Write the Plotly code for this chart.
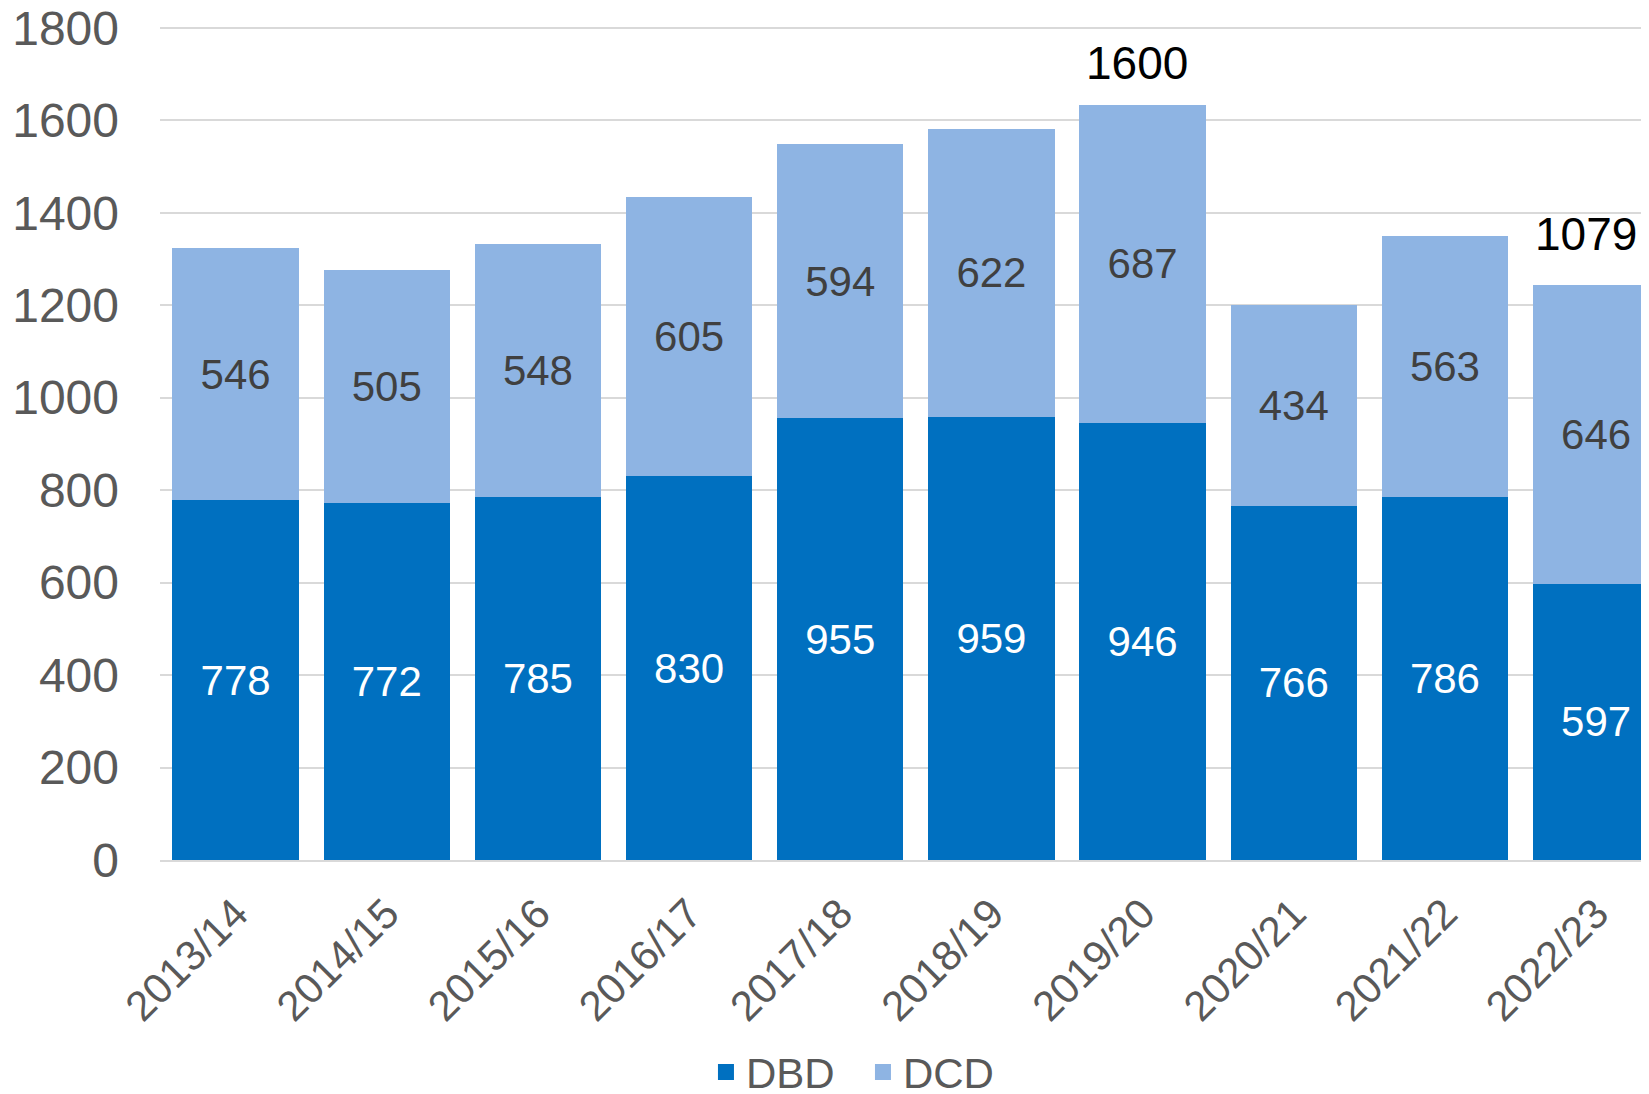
import plotly.graph_objects as go

years = ["2013/14", "2014/15", "2015/16", "2016/17", "2017/18",
         "2018/19", "2019/20", "2020/21", "2021/22", "2022/23"]
dbd = [778, 772, 785, 830, 955, 959, 946, 766, 786, 597]
dcd = [546, 505, 548, 605, 594, 622, 687, 434, 563, 646]
y_ticks = [0, 200, 400, 600, 800, 1000, 1200, 1400, 1600, 1800]
note_years = ["2019/20", "2022/23"]
note_texts = ["1600", "1079"]

FONT = "Liberation Sans, Arial, sans-serif"
C_DBD = "#0070C0"
C_DCD = "#8EB4E3"

fig = go.Figure()
fig.add_trace(go.Bar(
    x=years, y=dbd, name="DBD", marker=dict(color=C_DBD, line=dict(width=0)),
    text=[str(v) for v in dbd], textposition="inside", insidetextanchor="middle",
    constraintext="none", textangle=0, showlegend=False,
    textfont=dict(family=FONT, size=42, color="white"),
))
fig.add_trace(go.Bar(
    x=years, y=dcd, name="DCD", marker=dict(color=C_DCD, line=dict(width=0)),
    text=[str(v) for v in dcd], textposition="inside", insidetextanchor="middle",
    constraintext="none", textangle=0, showlegend=False,
    textfont=dict(family=FONT, size=42, color="#404040"),
))
# legend entries with square swatches
for nm, col in [("DBD", C_DBD), ("DCD", C_DCD)]:
    fig.add_trace(go.Scatter(x=[None], y=[None], mode="markers", name=nm,
                             marker=dict(symbol="square", size=23, color=col),
                             showlegend=True))

totals = {y: a + b for y, a, b in zip(years, dbd, dcd)}
shifts = {"2019/20": (-6, 14), "2022/23": (-10, 23)}
for yr, txt in zip(note_years, note_texts):
    xs, ys = shifts[yr]
    fig.add_annotation(x=yr, y=totals[yr], text=txt, showarrow=False,
                       xanchor="center", yanchor="bottom", xshift=xs, yshift=ys,
                       font=dict(family=FONT, size=46, color="black"))

fig.update_layout(
    barmode="stack",
    bargap=0.165,
    width=1641, height=1086,
    margin=dict(l=152, r=0, t=17, b=234, autoexpand=False),
    plot_bgcolor="white", paper_bgcolor="white",
    font=dict(family=FONT, color="#595959"),
    showlegend=True,
    legend=dict(orientation="h", xref="container", yref="container",
                x=0.521, xanchor="center", y=0.02, yanchor="middle",
                font=dict(family=FONT, size=42, color="#595959"),
                traceorder="normal", itemwidth=30, entrywidth=112, tracegroupgap=0),
    xaxis=dict(range=[-0.5, 9.35], tickangle=-45, showgrid=False, automargin=False,
               showline=True, linecolor="#D9D9D9", linewidth=2,
               ticks="", ticklabelstandoff=10,
               tickfont=dict(family=FONT, size=42, color="#595959")),
    yaxis=dict(range=[0, 1806], tickvals=y_ticks, showgrid=True, automargin=False,
               gridcolor="#D9D9D9", gridwidth=1.5, zeroline=False,
               showline=False, ticks="", ticklabelstandoff=40,
               ticklabeloverflow="allow",
               tickfont=dict(family=FONT, size=48, color="#595959")),
)

fig.write_html("out.html")
